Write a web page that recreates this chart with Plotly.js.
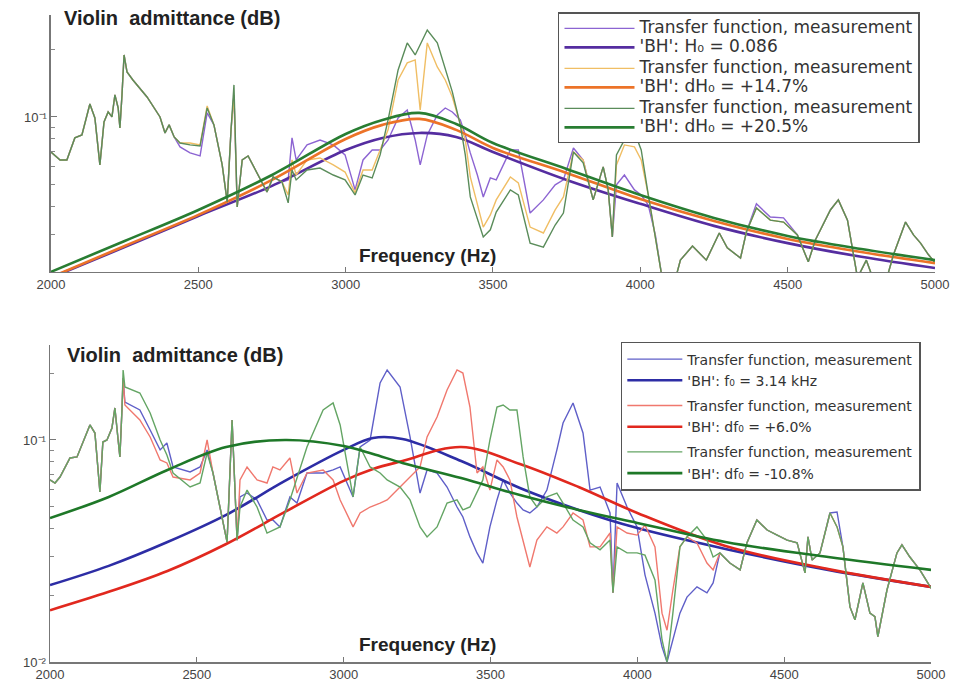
<!DOCTYPE html>
<html>
<head>
<meta charset="utf-8">
<script src="https://cdn.plot.ly/plotly-3.0.1.min.js"></script>
<style>
  html, body { margin: 0; padding: 0; background: #fff; }
  #plot { width: 958px; height: 683px; }
</style>
</head>
<body>
<div id="plot"></div>
<script>
// ---- top panel: measured transfer functions (Hz, admittance) ----
const topFreq = [2000,2031,2054,2081,2105,2132,2149,2166,2180,2194,
  2207,2217,2228,2234,2241,2248,2258,2278,2326,2370,
  2387,2401,2418,2438,2472,2506,2530,2553,2581,2598,
  2611,2621,2632,2649,2669,2703,2733,2754,2784,2805,
  2818,2832,2869,2913,2958,2998,3032,3059,3090,3117,
  3144,3178,3209,3236,3253,3277,3311,3338,3362,3389,
  3406,3423,3447,3467,3491,3511,3559,3586,3626,3671,
  3711,3739,3773,3806,3840,3874,3891,3905,3919,3946,
  3980,4003,4027,4051,4075,4109,4136,4177,4224,4268,
  4295,4340,4360,4394,4441,4486,4533,4570,4594,4645,
  4672,4703,4737,4767,4791,4825,4859,4900,4927,4951,
  4978,4998];

const topMeasPurple = [0.0699,0.0644,0.0644,0.0807,0.0832,0.1142,0.0990,0.0612,0.0950,0.1052,
  0.1000,0.1253,0.1096,0.0894,0.1253,0.1886,0.1585,0.1460,0.1227,0.1000,
  0.0849,0.0922,0.0815,0.0736,0.0692,0.0671,0.1042,0.0922,0.0612,0.0419,
  0.0876,0.1253,0.0398,0.0644,0.0671,0.0552,0.0464,0.0541,0.0514,0.0525,
  0.0807,0.0644,0.0751,0.0790,0.0751,0.0678,0.0474,0.0644,0.0713,0.0713,
  0.0790,0.0990,0.1074,0.0790,0.0612,0.0832,0.1021,0.1096,0.1052,0.0970,
  0.0832,0.0692,0.0552,0.0441,0.0536,0.0525,0.0713,0.0713,0.0374,0.0428,
  0.0499,0.0525,0.0728,0.0644,0.0428,0.0600,0.0474,0.0293,0.0499,0.0552,
  0.0474,0.0450,0.0406,0.0299,0.0189,0.0170,0.0231,0.0267,0.0231,0.0305,
  0.0262,0.0236,0.0308,0.0411,0.0359,0.0356,0.0299,0.0227,0.0284,0.0386,
  0.0428,0.0348,0.0193,0.0231,0.0189,0.0170,0.0244,0.0341,0.0299,0.0275,
  0.0244,0.0227];

const topMeasOrange = [0.0699,0.0644,0.0644,0.0807,0.0832,0.1142,0.0990,0.0612,0.0950,0.1052,
  0.1000,0.1253,0.1096,0.0894,0.1253,0.1886,0.1585,0.1460,0.1227,0.1000,
  0.0849,0.0922,0.0815,0.0766,0.0766,0.0751,0.1119,0.0922,0.0612,0.0419,
  0.0876,0.1253,0.0398,0.0644,0.0671,0.0552,0.0464,0.0541,0.0514,0.0450,
  0.0644,0.0552,0.0644,0.0657,0.0612,0.0569,0.0460,0.0581,0.0581,0.0713,
  0.0876,0.1460,0.1738,0.1792,0.1074,0.2133,0.1668,0.1460,0.1227,0.0931,
  0.0790,0.0541,0.0406,0.0324,0.0367,0.0428,0.0541,0.0509,0.0324,0.0305,
  0.0386,0.0441,0.0699,0.0644,0.0428,0.0600,0.0474,0.0293,0.0612,0.0751,
  0.0736,0.0644,0.0450,0.0284,0.0189,0.0170,0.0231,0.0267,0.0231,0.0305,
  0.0262,0.0236,0.0308,0.0394,0.0348,0.0341,0.0299,0.0227,0.0284,0.0386,
  0.0428,0.0348,0.0193,0.0231,0.0189,0.0170,0.0244,0.0341,0.0299,0.0275,
  0.0244,0.0227];

const topMeasGreen = [0.0699,0.0644,0.0644,0.0807,0.0832,0.1142,0.0990,0.0612,0.0950,0.1052,
  0.1000,0.1253,0.1096,0.0894,0.1253,0.1886,0.1585,0.1460,0.1227,0.1000,
  0.0849,0.0922,0.0815,0.0766,0.0751,0.0743,0.1096,0.0922,0.0612,0.0419,
  0.0876,0.1388,0.0398,0.0644,0.0671,0.0552,0.0464,0.0541,0.0514,0.0415,
  0.0581,0.0525,0.0581,0.0593,0.0552,0.0525,0.0450,0.0552,0.0536,0.0678,
  0.0970,0.1618,0.2133,0.1886,0.2089,0.2435,0.2133,0.1618,0.1292,0.0922,
  0.0678,0.0441,0.0348,0.0293,0.0315,0.0378,0.0474,0.0450,0.0275,0.0264,
  0.0331,0.0374,0.0699,0.0625,0.0428,0.0600,0.0474,0.0293,0.0678,0.0790,
  0.0858,0.0713,0.0450,0.0284,0.0189,0.0170,0.0231,0.0267,0.0231,0.0305,
  0.0262,0.0236,0.0308,0.0394,0.0348,0.0341,0.0299,0.0227,0.0284,0.0386,
  0.0428,0.0348,0.0193,0.0231,0.0189,0.0170,0.0244,0.0341,0.0299,0.0275,
  0.0244,0.0227];

// ---- top panel: 'BH' fits ----
const topFitFreq = [2000,2250,2500,2750,3000,3125,3250,3375,3500,3750,4000,4250,4500,4750,5000];
const topFitPurple = [0.0193,0.0264,0.0363,0.0494,0.0713,0.0807,0.0849,0.0815,0.0699,0.0525,0.0411,0.0328,0.0275,0.0239,0.0213];
const topFitOrange = [0.0194,0.0267,0.0367,0.0525,0.0798,0.0922,0.0980,0.0876,0.0728,0.0564,0.0432,0.0345,0.0287,0.0251,0.0224];
const topFitGreen = [0.0205,0.0281,0.0386,0.0552,0.0840,0.0970,0.1042,0.0931,0.0766,0.0587,0.0450,0.0356,0.0296,0.0259,0.0231];

// ---- bottom panel: measured transfer functions ----
const botFreq = [2000,2017,2034,2068,2092,2136,2153,2170,2180,2194,
  2211,2221,2232,2238,2245,2249,2255,2306,2341,2375,
  2398,2419,2477,2511,2535,2555,2603,2620,2637,2647,
  2671,2705,2739,2759,2783,2817,2841,2875,2930,2964,
  2988,3032,3056,3090,3124,3148,3192,3226,3260,3284,
  3318,3352,3386,3406,3430,3454,3474,3498,3522,3543,
  3566,3590,3611,3634,3658,3692,3726,3747,3781,3815,
  3839,3873,3907,3917,3931,3965,3999,4026,4060,4084,
  4101,4121,4145,4169,4203,4237,4258,4281,4315,4350,
  4373,4407,4442,4476,4510,4544,4571,4581,4595,4622,
  4656,4680,4700,4724,4741,4768,4792,4809,4819,4850,
  4884,4901,4928,4962,5000];

const botMeasBlue = [0.0661,0.0640,0.0681,0.0830,0.0839,0.1169,0.1075,0.0583,0.0979,0.1000,
  0.1133,0.1394,0.1000,0.0839,0.1365,0.1902,0.1483,0.1365,0.1109,0.0902,
  0.0969,0.0756,0.0718,0.0756,0.0902,0.0710,0.0347,0.1231,0.0354,0.0554,
  0.0577,0.0537,0.0436,0.0436,0.0406,0.0554,0.0520,0.0710,0.0710,0.0733,
  0.0756,0.0554,0.0930,0.1000,0.1806,0.2067,0.1733,0.1032,0.0577,0.0733,
  0.0710,0.0614,0.0499,0.0450,0.0366,0.0310,0.0279,0.0406,0.0537,0.0661,
  0.0577,0.0520,0.0484,0.0469,0.0499,0.0595,0.0902,0.1193,0.1468,0.1075,
  0.0595,0.0614,0.0469,0.0205,0.0640,0.0499,0.0406,0.0247,0.0166,0.0117,
  0.0100,0.0126,0.0166,0.0196,0.0218,0.0205,0.0227,0.0310,0.0279,0.0260,
  0.0344,0.0436,0.0393,0.0373,0.0354,0.0344,0.0252,0.0366,0.0288,0.0310,
  0.0469,0.0474,0.0330,0.0177,0.0155,0.0227,0.0166,0.0160,0.0130,0.0211,
  0.0310,0.0337,0.0297,0.0260,0.0215];

const botMeasRed = [0.0661,0.0640,0.0681,0.0830,0.0839,0.1169,0.1075,0.0583,0.0979,0.1000,
  0.1133,0.1394,0.1000,0.0839,0.1365,0.1902,0.1438,0.1231,0.1032,0.0813,
  0.0788,0.0681,0.0661,0.0710,0.1000,0.0710,0.0347,0.1231,0.0354,0.0661,
  0.0756,0.0661,0.0640,0.0756,0.0733,0.0830,0.0577,0.0710,0.0733,0.0661,
  0.0537,0.0406,0.0469,0.0499,0.0520,0.0537,0.0614,0.0681,0.0756,0.1032,
  0.1269,0.1680,0.2067,0.2003,0.1408,0.0710,0.0756,0.0595,0.0813,0.0756,
  0.0661,0.0450,0.0354,0.0268,0.0354,0.0406,0.0381,0.0406,0.0469,0.0436,
  0.0330,0.0330,0.0381,0.0205,0.0406,0.0381,0.0373,0.0414,0.0330,0.0166,
  0.0139,0.0211,0.0330,0.0366,0.0344,0.0279,0.0260,0.0310,0.0279,0.0260,
  0.0344,0.0436,0.0393,0.0373,0.0354,0.0344,0.0252,0.0366,0.0288,0.0310,
  0.0469,0.0406,0.0330,0.0177,0.0155,0.0227,0.0166,0.0160,0.0130,0.0211,
  0.0310,0.0337,0.0297,0.0260,0.0215];

const botMeasGreen = [0.0661,0.0640,0.0681,0.0830,0.0839,0.1169,0.1075,0.0583,0.0979,0.1000,
  0.1133,0.1394,0.1000,0.0839,0.1365,0.2067,0.1733,0.1628,0.1323,0.1000,
  0.0856,0.0710,0.0614,0.0640,0.0874,0.0710,0.0347,0.1231,0.0354,0.0499,
  0.0595,0.0499,0.0381,0.0393,0.0406,0.0537,0.0681,0.0930,0.1365,0.1468,
  0.1169,0.0554,0.0930,0.0756,0.0710,0.0661,0.0614,0.0537,0.0406,0.0366,
  0.0406,0.0520,0.0537,0.0484,0.0499,0.0577,0.0661,0.1000,0.1408,0.1438,
  0.1365,0.1365,0.0839,0.0554,0.0499,0.0554,0.0577,0.0520,0.0436,0.0406,
  0.0344,0.0320,0.0354,0.0205,0.0330,0.0310,0.0310,0.0303,0.0234,0.0126,
  0.0100,0.0166,0.0330,0.0366,0.0406,0.0354,0.0297,0.0310,0.0279,0.0260,
  0.0344,0.0436,0.0393,0.0373,0.0354,0.0344,0.0252,0.0366,0.0288,0.0310,
  0.0469,0.0406,0.0330,0.0177,0.0155,0.0227,0.0166,0.0160,0.0130,0.0211,
  0.0310,0.0337,0.0297,0.0260,0.0215];

// ---- bottom panel: 'BH' fits ----
const botFitFreq = [2000,2200,2400,2600,2800,3000,3100,3200,3400,3600,3800,4000,4300,4650,5000];
const botFitBlue = [0.0222,0.0271,0.0347,0.0460,0.0654,0.0902,0.1021,0.1010,0.0804,0.0608,0.0484,0.0401,0.0323,0.0260,0.0218];
const botFitRed = [0.0171,0.0207,0.0257,0.0340,0.0474,0.0654,0.0740,0.0804,0.0930,0.0780,0.0614,0.0469,0.0333,0.0262,0.0218];
const botFitGreen = [0.0445,0.0554,0.0733,0.0930,0.1000,0.0940,0.0865,0.0788,0.0674,0.0565,0.0484,0.0423,0.0347,0.0297,0.0260];

const freqTicks = [2000, 2500, 3000, 3500, 4000, 4500, 5000];
const measName = 'Transfer function, measurement';
const topFitNames = ["'BH': H₀ = 0.086", "'BH': dH₀ = +14.7%", "'BH': dH₀ = +20.5%"];
const botFitNames = ["'BH': f₀ = 3.14 kHz", "'BH': df₀ = +6.0%", "'BH': df₀ = -10.8%"];

function big(txt) {
    return '<span style="font-size:17px">' + txt + '</span>';
}

function measTrace(x, y, color, name, group, axes, legend) {
    return {
        x: x, y: y, type: 'scatter', mode: 'lines',
        name: name, legendgroup: group, legend: legend,
        xaxis: axes[0], yaxis: axes[1],
        line: { color: color, width: 1.4 },
        hoverinfo: 'skip',
    };
}

function fitTrace(x, y, color, name, group, axes, legend) {
    return {
        x: x, y: y, type: 'scatter', mode: 'lines',
        name: name, legendgroup: group, legend: legend,
        xaxis: axes[0], yaxis: axes[1],
        line: { color: color, width: 2.6, shape: 'spline', smoothing: 1 },
        hoverinfo: 'skip',
    };
}

const topAxes = ['x', 'y'];
const botAxes = ['x2', 'y2'];

const traces = [
    measTrace(topFreq, topMeasPurple, 'rgb(140,100,210)', big(measName), 'a', topAxes, 'legend'),
    fitTrace(topFitFreq, topFitPurple, 'rgb(85,45,160)', big(topFitNames[0]), 'a', topAxes, 'legend'),
    measTrace(topFreq, topMeasOrange, 'rgb(240,190,100)', big(measName), 'b', topAxes, 'legend'),
    fitTrace(topFitFreq, topFitOrange, 'rgb(236,115,40)', big(topFitNames[1]), 'b', topAxes, 'legend'),
    measTrace(topFreq, topMeasGreen, 'rgb(90,140,90)', big(measName), 'c', topAxes, 'legend'),
    fitTrace(topFitFreq, topFitGreen, 'rgb(40,125,50)', big(topFitNames[2]), 'c', topAxes, 'legend'),

    measTrace(botFreq, botMeasBlue, 'rgb(95,95,200)', measName, 'd', botAxes, 'legend2'),
    fitTrace(botFitFreq, botFitBlue, 'rgb(45,45,165)', botFitNames[0], 'd', botAxes, 'legend2'),
    measTrace(botFreq, botMeasRed, 'rgb(240,120,110)', measName, 'e', botAxes, 'legend2'),
    fitTrace(botFitFreq, botFitRed, 'rgb(225,40,30)', botFitNames[1], 'e', botAxes, 'legend2'),
    measTrace(botFreq, botMeasGreen, 'rgb(100,165,100)', measName, 'f', botAxes, 'legend2'),
    fitTrace(botFitFreq, botFitGreen, 'rgb(30,120,40)', botFitNames[2], 'f', botAxes, 'legend2'),
];

const tickFont = { family: 'Liberation Sans, Arial, sans-serif', size: 13, color: '#444' };

function xAxis(domain, anchor) {
    return {
        domain: domain, anchor: anchor, range: [2000, 5000],
        tickvals: freqTicks, ticks: 'inside', ticklen: 5, tickcolor: '#777',
        showline: true, linecolor: '#777', linewidth: 1.5,
        showgrid: false, zeroline: false, tickfont: tickFont,
    };
}

function yAxis(domain, anchor, range, major, labels, minor) {
    return {
        domain: domain, anchor: anchor, type: 'log', range: range,
        tickvals: major, ticktext: labels, ticks: 'inside', ticklen: 6, tickcolor: '#777',
        minor: { tickvals: minor, ticks: 'inside', ticklen: 4, tickcolor: '#888', showgrid: false },
        showline: true, linecolor: '#777', linewidth: 1.5,
        showgrid: false, zeroline: false, tickfont: tickFont,
    };
}

const legendBase = {
    xanchor: 'left', yanchor: 'top', bgcolor: '#fff',
    bordercolor: '#555', borderwidth: 1.5,
    traceorder: 'grouped',
};

const titleFont = { family: 'Liberation Sans, Arial, sans-serif', size: 20, color: '#222', weight: 'bold' };
const freqFont = { family: 'Liberation Sans, Arial, sans-serif', size: 19, color: '#222', weight: 'bold' };

const layout = {
    width: 958,
    height: 683,
    margin: { l: 50, r: 23, t: 15, b: 21 },
    paper_bgcolor: '#fff',
    plot_bgcolor: '#fff',
    showlegend: true,
    xaxis: xAxis([0.0011, 1], 'y'),
    yaxis: yAxis([0.6028, 1], 'x', [-1.689, -0.547], [0.1], ['10⁻¹'],
        [0.03, 0.04, 0.05, 0.06, 0.07, 0.08, 0.09, 0.2]),
    xaxis2: xAxis([0, 0.9955], 'y2'),
    yaxis2: yAxis([0, 0.49], 'x2', [-2, -0.572], [0.01, 0.1], ['10⁻²', '10⁻¹'],
        [0.02, 0.03, 0.04, 0.05, 0.06, 0.07, 0.08, 0.09, 0.2]),
    legend: Object.assign({}, legendBase, {
        x: 0.574, y: 1.004, itemwidth: 70, tracegroupgap: 2,
        font: { family: 'DejaVu Sans, sans-serif', size: 12, color: '#333' },
    }),
    legend2: Object.assign({}, legendBase, {
        x: 0.645, y: 0.4946, itemwidth: 55, tracegroupgap: 4,
        font: { family: 'DejaVu Sans, sans-serif', size: 14, color: '#333' },
    }),
    annotations: [
        { xref: 'paper', yref: 'paper', x: 0.0136, y: 0.9954, xanchor: 'left', yanchor: 'middle',
          text: 'Violin  admittance (dB)', showarrow: false, font: titleFont },
        { xref: 'paper', yref: 'paper', x: 0.0169, y: 0.4745, xanchor: 'left', yanchor: 'middle',
          text: 'Violin  admittance (dB)', showarrow: false, font: titleFont },
        { xref: 'paper', yref: 'paper', x: 0.427, y: 0.629, xanchor: 'center', yanchor: 'middle',
          text: 'Frequency (Hz)', showarrow: false, font: freqFont },
        { xref: 'paper', yref: 'paper', x: 0.427, y: 0.0263, xanchor: 'center', yanchor: 'middle',
          text: 'Frequency (Hz)', showarrow: false, font: freqFont },
    ],
};

const config = {
    displayModeBar: false,
    staticPlot: true,
};

Plotly.newPlot('plot', traces, layout, config);
</script>
</body>
</html>
